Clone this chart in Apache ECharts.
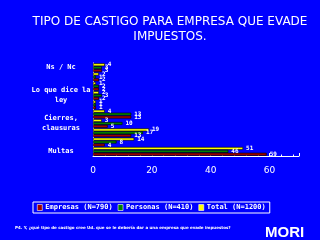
<!DOCTYPE html>
<html>
<head>
<meta charset="utf-8">
<script src="https://cdn.jsdelivr.net/npm/echarts@6/dist/echarts.min.js"></script>
<style>
  html, body { margin: 0; padding: 0; background: #0000ff; }
  #chart { width: 320px; height: 240px; }
</style>
</head>
<body>
<div id="chart"></div>
<script>
// categorias de abajo hacia arriba (las sin etiqueta no se leen en el original)
var categorias = ['Multas', '', '', 'Cierres,\nclausuras', '', '', 'Lo que dice la\nley', '', '', 'Ns / Nc'];
var empresas = [59, 4, 13, 5, 13, 1, 2, 2, 2, 3];
var personas = [46, 8, 17, 10, 13, 1, 3, 2, 1, 3];
var total    = [51, 14, 19, 3, 4, 1, 2, 1, 2, 4];
var ticksX = [0, 20, 40, 60];

var chart = echarts.init(document.getElementById('chart'));

var etiqueta = {
  show: true,
  position: 'right',
  distance: 3,
  color: '#fff',
  fontSize: 6,
  fontWeight: 'bold',
  fontFamily: 'DejaVu Sans Mono'
};

function serie(nombre, datos, color) {
  return {
    name: nombre,
    type: 'bar',
    data: datos,
    barGap: '0%',
    barCategoryGap: '6%',
    itemStyle: { color: color, borderColor: '#000', borderWidth: 0.6 },
    label: etiqueta
  };
}

var option = {
  backgroundColor: '#0000ff',
  animation: false,
  title: [
    {
      text: 'TIPO DE CASTIGO PARA EMPRESA QUE EVADE\nIMPUESTOS.',
      left: 170,
      top: 14,
      padding: 0,
      textAlign: 'center',
      textStyle: { color: '#fff', fontSize: 12, fontWeight: 'normal', fontFamily: 'DejaVu Sans', lineHeight: 15 }
    },
    {
      text: 'P4. Y, ¿qué tipo de castigo cree Ud. que se le debería dar a una empresa que evade impuestos?',
      left: 15,
      top: 226,
      padding: 0,
      textStyle: { color: '#fff', fontSize: 4, fontWeight: 'bold', fontFamily: 'DejaVu Sans' }
    },
    {
      text: 'MORI',
      left: 265,
      top: 225,
      padding: 0,
      textStyle: { color: '#fff', fontSize: 15, fontWeight: 'bold', fontFamily: 'Liberation Sans' }
    }
  ],
  legend: {
    left: 33,
    top: 202,
    width: 243,
    padding: [2, 4, 2, 4],
    borderColor: '#fff',
    borderWidth: 1,
    itemWidth: 5,
    itemHeight: 6,
    itemGap: 5,
    icon: 'rect',
    itemStyle: { borderColor: '#fff', borderWidth: 0.6 },
    textStyle: { color: '#fff', fontSize: 7, fontWeight: 'bold', fontFamily: 'DejaVu Sans Mono', padding: [0, 0, 0, -2] },
    data: ['Empresas (N=790)', 'Personas (N=410)', 'Total (N=1200)']
  },
  grid: { left: 93, right: 21, top: 63, bottom: 84, containLabel: false },
  xAxis: {
    type: 'value',
    min: 0,
    max: 70,
    interval: 20,
    splitLine: { show: false },
    axisLine: { show: true, lineStyle: { color: '#fff', width: 1 } },
    axisTick: { show: true, inside: true, length: 3, lineStyle: { color: '#fff' } },
    minorTick: { show: true, splitNumber: 5, length: 1.5, lineStyle: { color: '#fff' } },
    axisLabel: {
      color: '#fff',
      fontSize: 9,
      fontFamily: 'DejaVu Sans',
      margin: 10,
      showMaxLabel: false,
      formatter: function (v) { return ticksX.indexOf(v) >= 0 ? String(v) : ''; }
    }
  },
  yAxis: {
    type: 'category',
    data: categorias,
    axisLine: { show: true, lineStyle: { color: '#fff', width: 1 } },
    axisTick: { show: false },
    axisLabel: {
      interval: 0,
      color: '#fff',
      fontSize: 7,
      fontWeight: 'bold',
      fontFamily: 'DejaVu Sans Mono',
      align: 'center',
      margin: 32,
      lineHeight: 10
    }
  },
  // en barras horizontales la primera serie queda arriba en cada grupo
  series: [
    serie('Total (N=1200)', total, '#ffff00'),
    serie('Personas (N=410)', personas, '#008000'),
    serie('Empresas (N=790)', empresas, '#a00000')
  ]
};

chart.setOption(option);
</script>
</body>
</html>
